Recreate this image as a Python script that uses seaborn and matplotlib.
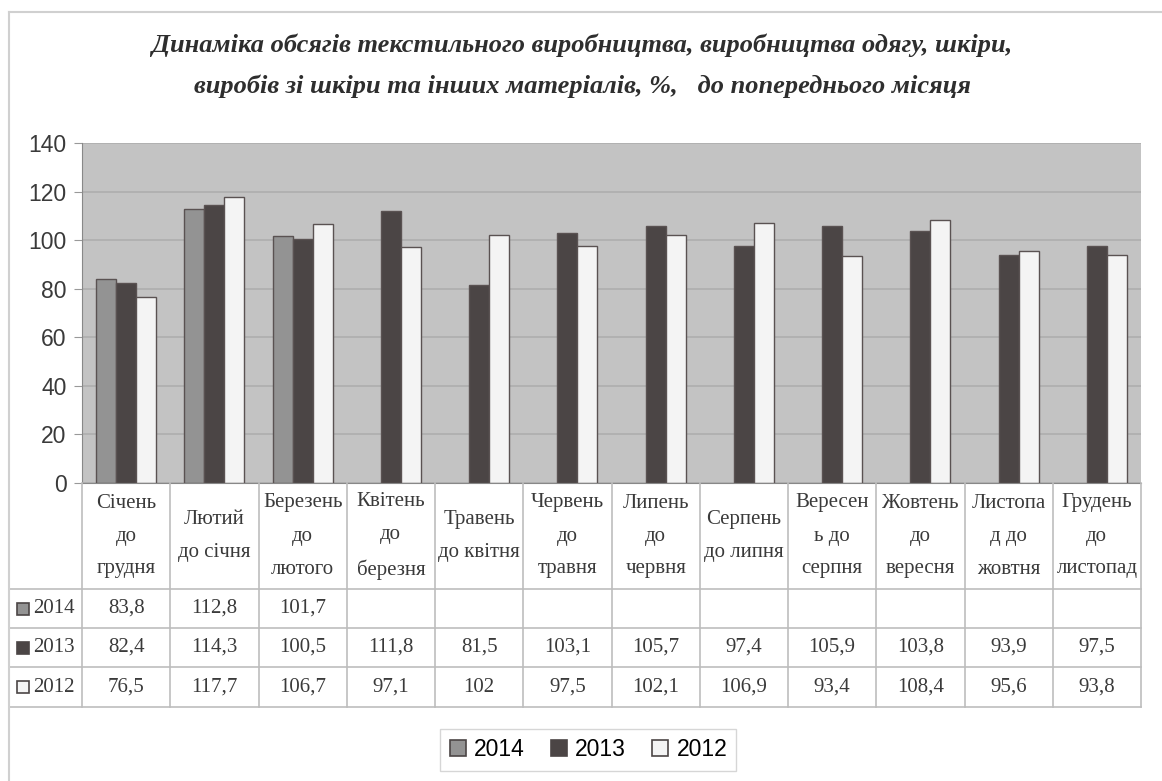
# Dynamics of textile / clothing / leather production, % to previous month

import numpy as np
import pandas as pd
import matplotlib
matplotlib.use("Agg")
import matplotlib.pyplot as plt
from matplotlib.lines import Line2D
import seaborn as sns


# Data

months = [
    "Січень\nдо\nгрудня", "Лютий\nдо січня", "Березень\nдо\nлютого",
    "Квітень\nдо\nберезня", "Травень\nдо квітня", "Червень\nдо\nтравня",
    "Липень\nдо\nчервня", "Серпень\nдо липня", "Вересен\nь до\nсерпня",
    "Жовтень\nдо\nвересня", "Листопа\nд до\nжовтня", "Грудень\nдо\nлистопад",
]
years = ["2014", "2013", "2012"]
v2014 = [83.8, 112.8, 101.7, np.nan, np.nan, np.nan,
         np.nan, np.nan, np.nan, np.nan, np.nan, np.nan]
v2013 = [82.4, 114.3, 100.5, 111.8, 81.5, 103.1, 105.7, 97.4, 105.9, 103.8, 93.9, 97.5]
v2012 = [76.5, 117.7, 106.7, 97.1, 102, 97.5, 102.1, 106.9, 93.4, 108.4, 95.6, 93.8]
colors = {"2014": "#939393", "2013": "#4b4545", "2012": "#f4f4f4"}

df = pd.DataFrame({
    "month": months * 3,
    "year": ["2014"] * 12 + ["2013"] * 12 + ["2012"] * 12,
    "value": v2014 + v2013 + v2012,
})


def fmt(v):
    if np.isnan(v):
        return ""
    if float(v).is_integer():
        return str(int(v))
    return f"{v:.1f}".replace(".", ",")


# Figure layout (pixel based)

W, H = 1162, 781
fig = plt.figure(figsize=(W / 100, H / 100), dpi=100)
fig.patch.set_facecolor("white")

px_l, px_r, px_t, px_b = 82, 1141, 143, 483
ax = fig.add_axes([px_l / W, 1 - px_b / H, (px_r - px_l) / W, (px_b - px_t) / H])

sns.barplot(
    data=df, x="month", y="value", hue="year", hue_order=years,
    order=months, palette=colors, width=0.68, edgecolor="#5a5252",
    linewidth=1.0, saturation=1, ax=ax,
)

ax.set_facecolor("#c3c3c3")
ax.set_ylim(0, 140)
ax.set_xlim(-0.5, 11.5)
ax.set_yticks(range(0, 141, 20))
ax.tick_params(axis="y", labelsize=16.5, colors="#3a3a3a", length=6, width=0.8,
               color="#999999", pad=5)
for lab in ax.get_yticklabels():
    lab.set_fontfamily("Liberation Sans")
ax.set_xticks([])
ax.set_xlabel("")
ax.set_ylabel("")
ax.yaxis.grid(True, color="#aeaeae", linewidth=1.2)
ax.set_axisbelow(True)
for side in ["top", "right"]:
    ax.spines[side].set_visible(False)
ax.spines["left"].set_color("#888888")
ax.spines["bottom"].set_color("#888888")
ax.get_legend().remove()

# Title
title_kw = dict(ha="center", va="center", fontsize=19, fontstyle="italic",
                fontweight="bold", family="Liberation Serif", color="#2e2e2e")
fig.text(582 / W, 1 - 45 / H,
         "Динаміка обсягів текстильного виробництва, виробництва одягу, шкіри,",
         **title_kw)
fig.text(582 / W, 1 - 86 / H,
         "виробів зі шкіри та інших матеріалів, %,   до попереднього місяця",
         **title_kw)

# Data table under the chart
tab_l, tab_t, tab_b = 9, 483, 707
tax = fig.add_axes([tab_l / W, 1 - tab_b / H, (px_r - tab_l) / W, (tab_b - tab_t) / H])
colw = (px_r - px_l) / 12
x0 = -0.5 - (px_l - tab_l) / colw
tax.set_xlim(x0, 11.5)
tax.set_ylim(tab_b - tab_t, 0)
tax.axis("off")

rows_y = [0, 106, 145, 184, 224]
line_c = "#bdbdbd"
for yy in rows_y[1:]:
    tax.plot([x0, 11.5], [yy, yy], color=line_c, lw=1.2, clip_on=False)
for i in range(13):
    tax.plot([i - 0.5, i - 0.5], [0, 224], color=line_c, lw=1.2, clip_on=False)
tax.plot([x0, x0], [106, 224], color=line_c, lw=1.2, clip_on=False)

serif = "Liberation Serif"
for i, m in enumerate(months):
    tax.text(i, 53, m, ha="center", va="center", fontsize=15, family=serif,
             color="#3a3a3a", linespacing=2.0)

series = [v2014, v2013, v2012]
for r, (yr, vals) in enumerate(zip(years, series)):
    yc = (rows_y[r + 1] + rows_y[r + 2]) / 2
    tax.plot([x0 + 0.16], [yc], marker="s", markersize=9,
             markerfacecolor=colors[yr], markeredgecolor="#4b4545",
             markeredgewidth=1.2, clip_on=False)
    tax.text(x0 + 0.27, yc, yr, ha="left", va="center", fontsize=15,
             family=serif, color="#3a3a3a")
    for i, v in enumerate(vals):
        tax.text(i, yc, fmt(v), ha="center", va="center", fontsize=15,
                 family=serif, color="#3a3a3a")

# Legend
handles = [Line2D([0], [0], marker="s", linestyle="", markersize=11,
                  markerfacecolor=colors[y], markeredgecolor="#4b4545",
                  markeredgewidth=1.2) for y in years]
fig.legend(handles, years, loc="center", bbox_to_anchor=(588 / W, 1 - 750 / H),
           ncol=3, frameon=True, handlelength=0.8,
           handletextpad=0.3, columnspacing=1.1, edgecolor="#cccccc",
           fancybox=False, prop={"family": "Liberation Sans", "size": 16.5})

# Outer chart frame
fig.add_artist(Line2D([9 / W, 1], [1 - 12 / H, 1 - 12 / H], color="#d0d0d0", lw=1.5))
fig.add_artist(Line2D([9 / W, 9 / W], [0, 1 - 12 / H], color="#d0d0d0", lw=1.5))

fig.savefig("out.png", dpi=100)
